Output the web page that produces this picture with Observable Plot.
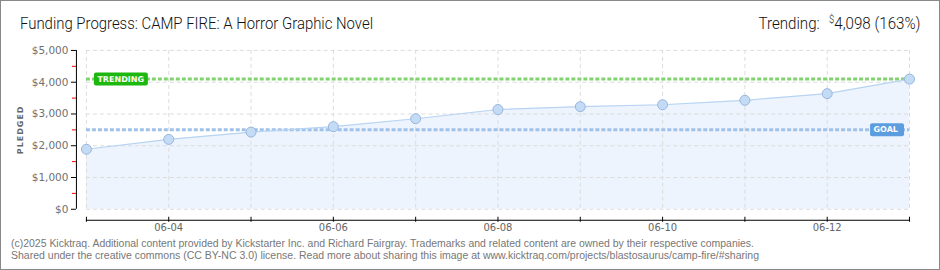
<!DOCTYPE html>
<html>
<head>
<meta charset="utf-8">
<script src="https://cdn.jsdelivr.net/npm/d3@7"></script>
<script src="https://cdn.jsdelivr.net/npm/@observablehq/plot@0.6"></script>
<style>
  html, body { margin: 0; padding: 0; background: #fff; }
  #wrap { position: relative; width: 940px; height: 270px; box-sizing: border-box; border: 1px solid #888; overflow: hidden; }
  #chart { position: absolute; left: -1px; top: -1px; }
  .title { position: absolute; left: 19px; top: 13px; font-family: "Roboto", sans-serif; font-weight: 300; font-size: 16px; color: #111; white-space: nowrap; transform-origin: 0 0; }
  .trend { position: absolute; right: 19px; top: 13px; font-family: "Roboto", sans-serif; font-weight: 300; font-size: 16px; color: #111; white-space: nowrap; transform-origin: 100% 0; }
  .trend sup { font-size: 10px; vertical-align: 6px; margin-left: 6px; }
  .foot { position: absolute; left: 10px; font-family: "Liberation Sans", sans-serif; font-size: 10.4px; color: #777; white-space: nowrap; transform-origin: 0 0; }
</style>
</head>
<body>
<div id="wrap">
  <div id="chart"></div>
  <div class="title" id="title"></div>
  <div class="trend" id="trend"></div>
  <div class="foot" id="foot1" style="top:237px"></div>
  <div class="foot" id="foot2" style="top:249px"></div>
</div>
<script>
const titleText = "Funding Progress: CAMP FIRE: A Horror Graphic Novel";
const dates = ["2025-06-03","2025-06-04","2025-06-05","2025-06-06","2025-06-07","2025-06-08","2025-06-09","2025-06-10","2025-06-11","2025-06-12","2025-06-13"];
const pledged = [1890, 2200, 2430, 2600, 2850, 3140, 3230, 3290, 3430, 3640, 4098];
const goal = 2500;
const trending = 4098;
const trendingPct = "163%";
const yTicks = [0, 1000, 2000, 3000, 4000, 5000];
const yMinorTicks = [500, 1500, 2500, 3500, 4500];
const xLabelDates = ["2025-06-04","2025-06-06","2025-06-08","2025-06-10","2025-06-12"];
const footLines = [
  "(c)2025 Kicktraq. Additional content provided by Kickstarter Inc. and Richard Fairgray. Trademarks and related content are owned by their respective companies.",
  "Shared under the creative commons (CC BY-NC 3.0) license. Read more about sharing this image at www.kicktraq.com/projects/blastosaurus/camp-fire/#sharing"
];

const parse = d3.utcParse("%Y-%m-%d");
const data = dates.map((d, i) => ({date: parse(d), value: pledged[i]}));
const allDays = data.map(d => d.date);
const labelDays = xLabelDates.map(parse);
const x0 = allDays[0], x1 = allDays[allDays.length - 1];
const fmtMoney = d => "$" + d3.format(",")(d);

document.getElementById("title").textContent = titleText;
document.getElementById("trend").innerHTML = "Trending: <sup>$</sup>" + d3.format(",")(trending) + " (" + trendingPct + ")";
document.getElementById("foot1").textContent = footLines[0];
document.getElementById("foot2").textContent = footLines[1];

function fitWidth(id, target) {
  const el = document.getElementById(id);
  const w = el.getBoundingClientRect().width;
  if (w > 0) el.style.transform = "scaleX(" + (target / w) + ")";
}
fitWidth("title", 353);
fitWidth("trend", 162);
fitWidth("foot1", 743);
fitWidth("foot2", 748);

const gridStyle = {stroke: "#dcdcdc", strokeDasharray: "4,3", strokeWidth: 1};

const chart = Plot.plot({
  width: 940,
  height: 270,
  marginLeft: 86,
  marginRight: 30,
  marginTop: 50,
  marginBottom: 61,
  style: {fontFamily: "DejaVu Sans, sans-serif", background: "transparent", overflow: "visible"},
  x: {type: "utc", domain: [x0, x1]},
  y: {domain: [0, 5000]},
  marks: [
    Plot.areaY(data, {x: "date", y: "value", fill: "#edf4fd"}),
    Plot.ruleX(allDays, {...gridStyle}),
    Plot.ruleY(yTicks, {...gridStyle}),
    Plot.ruleY([trending], {stroke: "#84d172", strokeWidth: 3, strokeDasharray: "4,2"}),
    Plot.ruleY([goal], {stroke: "#a0c1e8", strokeWidth: 3, strokeDasharray: "4,2"}),
    Plot.lineY(data, {x: "date", y: "value", stroke: "#b8d4f2", strokeWidth: 1.2}),
    Plot.dot(data, {x: "date", y: "value", r: 5, fill: "#c4dbf5", stroke: "#96b6dc", strokeWidth: 1}),
    // labels
    Plot.rect([trending], {x1: () => x0, x2: () => x0, y1: d => d, y2: d => d, insetLeft: 8, insetRight: -62, insetTop: -6, insetBottom: -7, fill: "#1db80f", rx: 2}),
    Plot.text([trending], {x: () => x0, y: d => d, text: () => "TRENDING", dx: 11, textAnchor: "start", fill: "#fff", fontSize: 8, fontWeight: "bold"}),
    Plot.rect([goal], {x1: () => x1, x2: () => x1, y1: d => d, y2: d => d, insetLeft: -39, insetRight: 5, insetTop: -6, insetBottom: -7, fill: "#5c9de0", rx: 2}),
    Plot.text([goal], {x: () => x1, y: d => d, text: () => "GOAL", dx: -36, textAnchor: "start", fill: "#fff", fontSize: 8, fontWeight: "bold"}),
    // y axis
    Plot.ruleX([x0], {y1: 0, y2: 5000, dx: -10, stroke: "#000"}),
    Plot.axisY(yTicks, {dx: -10, tickSize: 5, tickPadding: 3, tickFormat: fmtMoney, fill: "#707070", fontSize: 10.5, stroke: "#000", label: null}),
    Plot.axisY(yMinorTicks, {dx: -10, tickSize: 4, text: null, stroke: "#e00", label: null}),
    Plot.text(["PLEDGED"], {frameAnchor: "left", textAnchor: "middle", dx: -66, rotate: -90, text: d => d, fill: "#666", fontSize: 8, fontWeight: "bold"}),
    // x axis
    Plot.ruleY([0], {dy: 11, stroke: "#000"}),
    Plot.axisX(allDays, {dy: 8, tickSize: 5, text: null, stroke: "#000", label: null}),
    Plot.axisX(labelDays, {dy: 0, tickSize: 0, tickPadding: 15, tickFormat: d3.utcFormat("%m-%d"), fill: "#666", fontSize: 10, label: null})
  ]
});
d3.select(chart).selectAll("text").filter(function() { return this.textContent === "PLEDGED"; }).attr("letter-spacing", 1.0);
document.getElementById("chart").appendChild(chart);
</script>
</body>
</html>
